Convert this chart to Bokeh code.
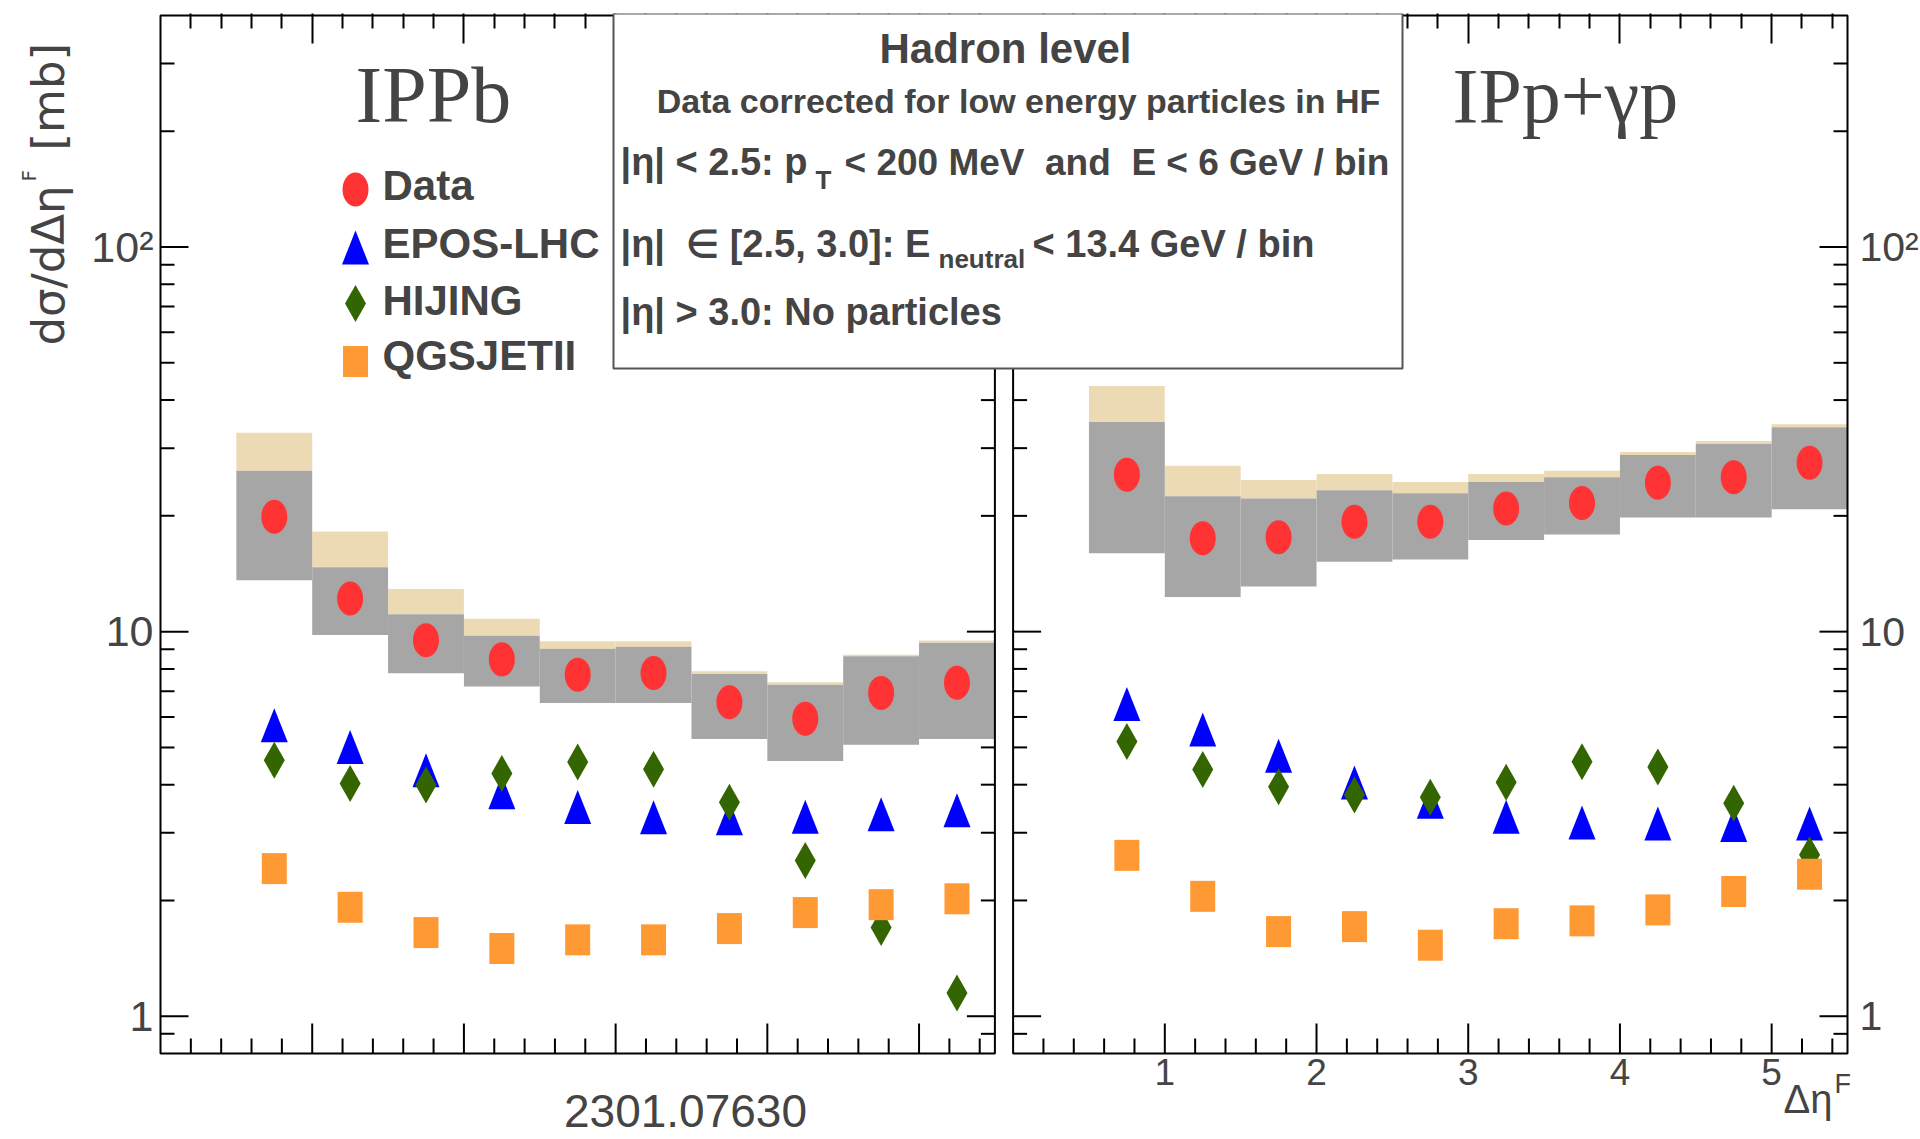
import numpy as np
from bokeh.plotting import figure
from bokeh.models import (Range1d, LinearAxis, FixedTicker, CustomJSTickFormatter, Label,
                          BoxAnnotation)
from bokeh.embed import file_html
from bokeh.resources import INLINE

# ---------------- data ----------------
bin_centers = [0.75, 1.25, 1.75, 2.25, 2.75, 3.25, 3.75, 4.25, 4.75, 5.25]
BIN_HALF = 0.25

# left panel: IPPb
data_ppb = [19.9, 12.2, 9.5, 8.47, 7.73, 7.81, 6.55, 5.94, 6.93, 7.36]
sys_hi_ppb = [26.2, 14.7, 11.1, 9.76, 9.02, 9.14, 7.76, 7.28, 8.63, 9.36]
sys_lo_ppb = [13.6, 9.8, 7.8, 7.2, 6.52, 6.52, 5.26, 4.61, 5.08, 5.26]
corr_hi_ppb = [32.9, 18.2, 12.9, 10.8, 9.44, 9.44, 7.89, 7.39, 8.71, 9.48]
epos_ppb = [5.71, 5.01, 4.36, 3.82, 3.50, 3.29, 3.27, 3.30, 3.35, 3.43]
hijing_ppb = [4.63, 4.03, 3.99, 4.28, 4.58, 4.39, 3.60, 2.54, 1.70, 1.15]
qgsjet_ppb = [2.42, 1.92, 1.65, 1.50, 1.58, 1.58, 1.69, 1.86, 1.95, 2.02]

# right panel: IPp+gamma p
data_pp = [25.6, 17.5, 17.6, 19.3, 19.3, 20.9, 21.6, 24.4, 25.2, 27.5]
sys_hi_pp = [35.1, 22.5, 22.2, 23.3, 22.9, 24.5, 25.2, 28.8, 30.8, 34.0]
sys_lo_pp = [16.0, 12.3, 13.1, 15.2, 15.4, 17.3, 17.9, 19.8, 19.8, 20.8]
corr_hi_pp = [43.5, 27.0, 24.8, 25.7, 24.5, 25.7, 26.2, 29.3, 31.3, 34.6]
epos_pp = [6.48, 5.57, 4.76, 4.05, 3.61, 3.30, 3.19, 3.17, 3.14, 3.17]
hijing_pp = [5.18, 4.38, 3.95, 3.76, 3.71, 4.06, 4.59, 4.45, 3.58, 2.63]
qgsjet_pp = [2.62, 2.05, 1.66, 1.71, 1.53, 1.74, 1.77, 1.89, 2.11, 2.34]

x_major = [1, 2, 3, 4, 5]
x_major_labels = ["1", "2", "3", "4", "5"]
y_major = [1, 10, 100]
y_major_labels = ["1", "10", "10\u00b2"]
y_minor = [0.9, 2, 3, 4, 5, 6, 7, 8, 9, 20, 30, 40, 50, 60, 70, 80, 90, 200, 300]
legend_labels = ["Data", "EPOS-LHC", "HIJING", "QGSJETII"]

# ---------------- style / layout ----------------
COL_DATA, COL_EPOS, COL_HIJ, COL_QGS = "#ff3333", "#0000ff", "#336600", "#ff9933"
COL_SYS, COL_COR = "#a6a6a6", "#ecdab5"
SANS = "Liberation Sans"
SERIF = "Liberation Serif"

Y_MIN, Y_MAX = 0.8, 400
X_SPAN = 5.5
GAP = 0.12
R = X_SPAN + GAP          # offset of right panel on the shared x scale

W, H = 1920, 1139
PX0, PX1 = 160, 1847      # pixel columns of the two outer panel edges
PY_TOP, PY_BOT = 15, 1053  # pixel rows of Y_MAX and Y_MIN
TOP_BORDER = 13
px_x = (PX1 - PX0) / (R + X_SPAN)
px_dec = float((PY_BOT - PY_TOP) / np.log10(Y_MAX / Y_MIN))


def dx(px):
    return (px - PX0) / px_x


def dy(py):
    return float(Y_MIN * 10 ** ((PY_BOT - py) / px_dec))


p = figure(width=W, height=H, x_range=Range1d(dx(0), dx(W)),
           y_range=Range1d(dy(H), dy(TOP_BORDER)), y_axis_type="log",
           x_axis_location=None, y_axis_location=None,
           output_backend="svg", toolbar_location=None,
           min_border_left=0, min_border_right=0, min_border_top=TOP_BORDER,
           min_border_bottom=0)
p.xgrid.grid_line_color = None
p.ygrid.grid_line_color = None
p.outline_line_color = None
p.background_fill_color = "white"
p.border_fill_color = "white"

# ---------------- ticks ----------------
minor_panel = [round(0.2 * k, 1) for k in range(1, 28) if k % 5 != 0]
xt_major = list(x_major) + [R + v for v in x_major]
xt_minor = minor_panel + [R + v for v in minor_panel]

top_ax = LinearAxis(ticker=FixedTicker(ticks=xt_major, minor_ticks=xt_minor),
                    formatter=CustomJSTickFormatter(code="return '';"),
                    major_label_standoff=0, axis_line_color=None,
                    major_tick_in=30, major_tick_out=0, minor_tick_in=15, minor_tick_out=0,
                    major_tick_line_width=2, minor_tick_line_width=2)
p.add_layout(top_ax, "above")

# bottom ticks of both panels
xt_all = xt_major + xt_minor
xt_len = [30] * len(xt_major) + [15] * len(xt_minor)
p.segment(x0=xt_all, y0=[Y_MIN] * len(xt_all), x1=xt_all,
          y1=[Y_MIN * 10 ** (l / px_dec) for l in xt_len], line_color="black", line_width=2)

# y ticks on all four vertical panel edges
yt_all = y_major + y_minor
yt_len = [28] * len(y_major) + [14] * len(y_minor)
for edge, sign in [(0.0, 1), (X_SPAN, -1), (R, 1), (R + X_SPAN, -1)]:
    p.segment(x0=[edge] * len(yt_all), y0=yt_all,
              x1=[edge + sign * l / px_x for l in yt_len], y1=yt_all,
              line_color="black", line_width=2)

# ---------------- panels ----------------
panels = [
    (0.0, data_ppb, sys_hi_ppb, sys_lo_ppb, corr_hi_ppb, epos_ppb, hijing_ppb, qgsjet_ppb),
    (R, data_pp, sys_hi_pp, sys_lo_pp, corr_hi_pp, epos_pp, hijing_pp, qgsjet_pp),
]

tri_hw = 13.5 / px_x
tri_f = 10 ** (17 / px_dec)
dia_hw = 10.5 / px_x
dia_f = 10 ** (18.5 / px_dec)


def markers(xs, dat, ep, hj, qg):
    if dat:
        p.ellipse(x=xs[:len(dat)], y=dat, width=26, height=34, width_units="screen",
                  height_units="screen", fill_color=COL_DATA, line_color=None)
    if ep:
        p.patches(xs=[[x - tri_hw, x + tri_hw, x] for x in xs[:len(ep)]],
                  ys=[[v / tri_f, v / tri_f, v * tri_f] for v in ep],
                  fill_color=COL_EPOS, line_color=None)
    if hj:
        p.patches(xs=[[x, x + dia_hw, x, x - dia_hw] for x in xs[:len(hj)]],
                  ys=[[v * dia_f, v, v / dia_f, v] for v in hj],
                  fill_color=COL_HIJ, line_color=None)
    if qg:
        p.rect(x=xs[:len(qg)], y=qg, width=25, height=31, width_units="screen",
               height_units="screen", fill_color=COL_QGS, line_color=None)


for off, dat, shi, slo, chi, ep, hj, qg in panels:
    xs = [c + off for c in bin_centers]
    left = [x - BIN_HALF for x in xs]
    right = [x + BIN_HALF for x in xs]
    p.quad(left=left, right=right, bottom=shi, top=chi, fill_color=COL_COR, line_color=None)
    p.quad(left=left, right=right, bottom=slo, top=shi, fill_color=COL_SYS, line_color=None)

for off, dat, shi, slo, chi, ep, hj, qg in panels:
    markers([c + off for c in bin_centers], dat, ep, hj, qg)

# panel frames
p.quad(left=[0, R], right=[X_SPAN, R + X_SPAN], bottom=[Y_MIN, Y_MIN], top=[Y_MAX, Y_MAX],
       fill_color=None, line_color="black", line_width=2)

# legend markers (one of each kind, stacked)
leg_x = dx(355)
leg_rows = [dy(v) for v in (189, 247, 303, 361)]
markers([leg_x], [leg_rows[0]], [], [], [])
markers([leg_x], [], [leg_rows[1]], [], [])
markers([leg_x], [], [], [leg_rows[2]], [])
markers([leg_x], [], [], [], [leg_rows[3]])


def lab(text, x, y, size, font=SANS, style="normal", align="left", angle=0.0, shift=0.35):
    """x, y: pixel position of the text's baseline start (or centre / end)."""
    if angle == 0.0:
        px, py = x, y - shift * size
    else:
        px, py = x - shift * size, y
    p.add_layout(Label(x=dx(px), y=dy(py), text=text, text_font=font,
                       text_font_size="%gpx" % size, text_font_style=style,
                       text_align=align, text_baseline="middle", angle=angle))


# tick labels
for v, t in zip(y_major, y_major_labels):
    p.add_layout(Label(x=dx(153), y=v, text=t, text_font=SANS, text_font_size="43px",
                       text_align="right", text_baseline="middle"))
    p.add_layout(Label(x=dx(1859), y=v, text=t, text_font=SANS, text_font_size="41px",
                       text_align="left", text_baseline="middle"))
for v, t in zip(x_major, x_major_labels):
    p.add_layout(Label(x=R + v, y=dy(1071), text=t, text_font=SANS, text_font_size="37px",
                       text_align="center", text_baseline="middle"))

# panel labels
lab("IPPb", 355, 122, 80, font=SERIF)
lab("IPp+\u03b3p", 1452, 122, 78, font=SERIF)

for t, yb in zip(legend_labels, (200, 258, 315, 370)):
    lab(t, 382, yb, 42, style="bold")

# info box
p.add_layout(BoxAnnotation(left=dx(613), right=dx(1402), top=dy(13), bottom=dy(368),
                           fill_color="white", fill_alpha=1.0, line_color="#555555",
                           line_width=2, line_alpha=1.0))
lab("Hadron level", 1005, 63, 42, style="bold", align="center")
lab("Data corrected for low energy particles in HF", 1018, 112, 34, style="bold",
    align="center")
lab("|\u03b7| < 2.5: p", 620, 175, 38, style="bold")
lab("T", 815, 189, 26, style="bold")
lab("< 200 MeV\u00a0 and\u00a0 E < 6 GeV / bin", 844, 175, 37, style="bold")
lab("|\u03b7|\u00a0 \u2208 [2.5, 3.0]: E", 620, 257, 38, style="bold")
lab("neutral", 938, 268, 26, style="bold")
lab("< 13.4 GeV / bin", 1032, 257, 38, style="bold")
lab("|\u03b7| > 3.0: No particles", 620, 325, 38, style="bold")

# axis titles
half_pi = float(np.pi / 2)
lab("d\u03c3/d\u0394\u03b7", 64, 345, 45, font="DejaVu Sans", angle=half_pi)
lab("F", 35, 181, 20, font="DejaVu Sans", angle=half_pi)
lab("[mb]", 64, 150, 45, font="DejaVu Sans", angle=half_pi)
lab("\u0394\u03b7", 1783, 1112, 40)
lab("F", 1834, 1093, 27)

lab("2301.07630", 685, 1127, 46, align="center")

open("out.html", "w").write(file_html(p, INLINE))
